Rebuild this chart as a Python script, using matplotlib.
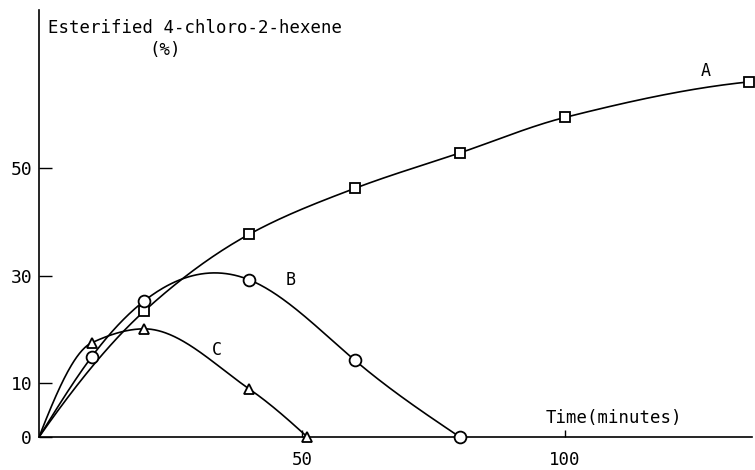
import numpy as np
import matplotlib
matplotlib.use('Agg')
import matplotlib.pyplot as plt

# values (time in minutes, esterified %)
time_a = [0, 20, 40, 60, 80, 100, 135]
pct_a = [0, 23.4, 37.7, 46.2, 52.8, 59.4, 66.0]
time_b = [0, 10, 20, 40, 60, 80]
pct_b = [0, 14.9, 25.3, 29.2, 14.3, 0]
time_c = [0, 10, 20, 40, 51]
pct_c = [0, 17.5, 20.1, 8.9, 0]

xticks = [50, 100]
yticks = [0, 10, 30, 50]


def natural_spline(x, y, n=300):
    # natural cubic spline through the points
    x = np.asarray(x, float)
    y = np.asarray(y, float)
    k = len(x)
    h = np.diff(x)
    A = np.zeros((k, k))
    r = np.zeros(k)
    A[0, 0] = A[-1, -1] = 1
    for i in range(1, k - 1):
        A[i, i - 1] = h[i - 1]
        A[i, i] = 2 * (h[i - 1] + h[i])
        A[i, i + 1] = h[i]
        r[i] = 6 * ((y[i + 1] - y[i]) / h[i] - (y[i] - y[i - 1]) / h[i - 1])
    m = np.linalg.solve(A, r)
    xs = np.linspace(x[0], x[-1], n)
    idx = np.clip(np.searchsorted(x, xs) - 1, 0, k - 2)
    x0, x1 = x[idx], x[idx + 1]
    hh = x1 - x0
    a = (x1 - xs) / hh
    b = (xs - x0) / hh
    ys = a * y[idx] + b * y[idx + 1] + ((a ** 3 - a) * m[idx] + (b ** 3 - b) * m[idx + 1]) * hh ** 2 / 6
    return xs, ys


def pchip(x, y, n=300):
    # shape preserving cubic (no overshoot between points)
    x = np.asarray(x, float)
    y = np.asarray(y, float)
    h = np.diff(x)
    d = np.diff(y) / h
    k = len(x)
    m = np.zeros(k)
    for i in range(1, k - 1):
        if d[i - 1] * d[i] > 0:
            w1 = 2 * h[i] + h[i - 1]
            w2 = h[i] + 2 * h[i - 1]
            m[i] = (w1 + w2) / (w1 / d[i - 1] + w2 / d[i])
    m[0] = ((2 * h[0] + h[1]) * d[0] - h[0] * d[1]) / (h[0] + h[1])
    if m[0] * d[0] <= 0:
        m[0] = 0
    m[-1] = ((2 * h[-1] + h[-2]) * d[-1] - h[-1] * d[-2]) / (h[-1] + h[-2])
    if m[-1] * d[-1] <= 0:
        m[-1] = 0
    xs = np.linspace(x[0], x[-1], n)
    idx = np.clip(np.searchsorted(x, xs) - 1, 0, k - 2)
    hh = h[idx]
    t = (xs - x[idx]) / hh
    ys = ((2 * t ** 3 - 3 * t ** 2 + 1) * y[idx] + (t ** 3 - 2 * t ** 2 + t) * hh * m[idx]
          + (-2 * t ** 3 + 3 * t ** 2) * y[idx + 1] + (t ** 3 - t ** 2) * hh * m[idx + 1])
    return xs, ys


plt.rcParams['font.family'] = ['DejaVu Sans Mono']

fig = plt.figure(figsize=(7.55, 4.70), dpi=100)
ax = fig.add_axes([0.0517, 0.0702, 0.944, 0.909])

series = [(time_a, pct_a, 's', 6.5, pchip),
          (time_b, pct_b, 'o', 8.5, natural_spline),
          (time_c, pct_c, '^', 7.5, pchip)]
for t, p, mk, ms, fit in series:
    xs, ys = fit(t, p)
    ax.plot(xs, ys, color='black', lw=1.2, zorder=2)
    ax.plot(t[1:], p[1:], linestyle='none', marker=mk, ms=ms, mfc='white',
            mec='black', mew=1.3, zorder=3, clip_on=False)

ax.text(126.7, 68, 'A', fontsize=12, ha='center', va='center')
ax.text(47.9, 29.2, 'B', fontsize=12, ha='center', va='center')
ax.text(33.9, 16.1, 'C', fontsize=12, ha='center', va='center')
ax.text(109.3, 3.6, 'Time(minutes)', fontsize=12.5, ha='center', va='center')
ax.text(1.7, 76, 'Esterified 4-chloro-2-hexene', fontsize=12.5, ha='left', va='center')
ax.text(24, 72, '(%)', fontsize=12.5, ha='center', va='center')

ax.set_xlim(0, 135.5)
ax.set_ylim(0, 79.4)
ax.set_xticks(xticks)
ax.set_yticks(yticks)
ax.tick_params(axis='x', direction='in', length=5, width=1, pad=10, labelsize=12.5)
ax.tick_params(axis='y', direction='in', length=9, width=1, pad=5, labelsize=13)
for s in ['top', 'right']:
    ax.spines[s].set_visible(False)
for s in ['left', 'bottom']:
    ax.spines[s].set_linewidth(1.2)

fig.savefig('out.png', dpi=100)
